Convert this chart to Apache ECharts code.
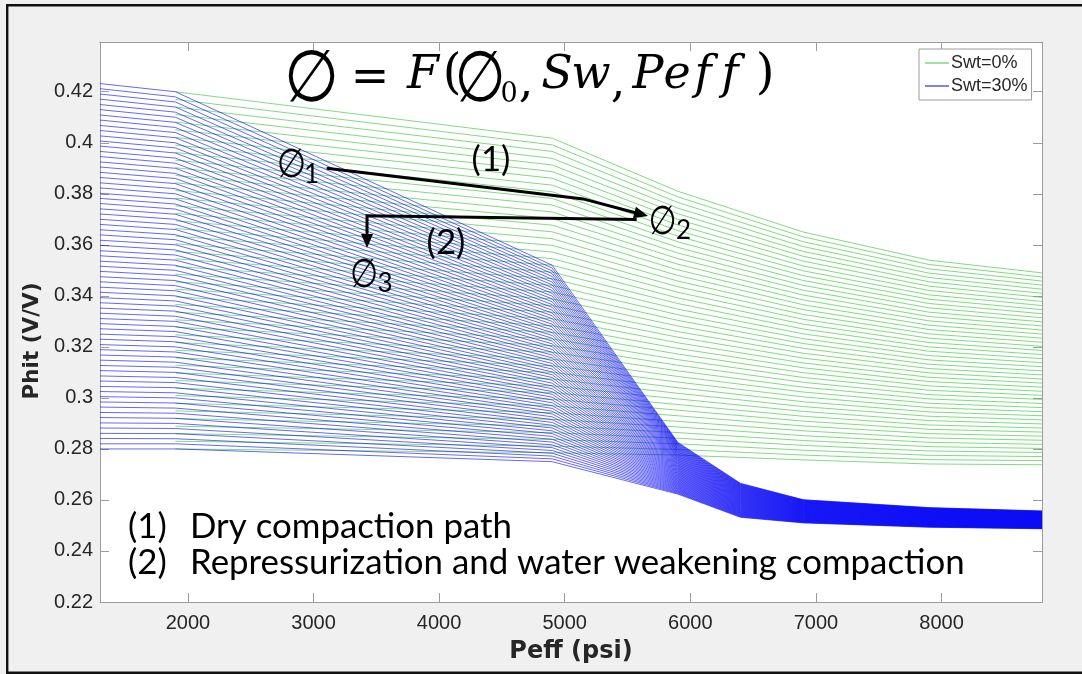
<!DOCTYPE html>
<html><head><meta charset="utf-8"><title>Phit vs Peff</title>
<script src="https://cdn.jsdelivr.net/npm/echarts@6.0.0/dist/echarts.min.js"></script>
<style>html,body{margin:0;padding:0;background:#f0f0f0;overflow:hidden}#chart{width:1082px;height:674px}</style>
</head><body><div id="chart"></div>
<script>
// ---- data ----
const xTickValues = [2000, 3000, 4000, 5000, 6000, 7000, 8000];
const yTickValues = [0.22, 0.24, 0.26, 0.28, 0.30, 0.32, 0.34, 0.36, 0.38, 0.40, 0.42];
const yTickLabels = ['0.22', '0.24', '0.26', '0.28', '0.3', '0.32', '0.34', '0.36', '0.38', '0.4', '0.42'];
const legendNames = ['Swt=0%', 'Swt=30%'];

// Swt=30% family: Phit of every curve (top to bottom) at each Peff breakpoint
const bluePeff = [1300, 1900, 4900, 5900, 6400, 6900, 7900, 8800];
const blueAt1300 = [.4232,.4212,.4191,.4171,.4150,.4130,.4109,.4089,.4068,.4048,
  .4027,.4007,.3987,.3966,.3946,.3925,.3905,.3884,.3864,.3843,
  .3823,.3802,.3782,.3762,.3741,.3721,.3700,.3680,.3659,.3639,
  .3618,.3598,.3577,.3557,.3536,.3516,.3496,.3475,.3455,.3434,
  .3414,.3393,.3373,.3352,.3332,.3311,.3291,.3271,.3250,.3230,
  .3209,.3189,.3168,.3148,.3127,.3107,.3086,.3066,.3045,.3025,
  .3005,.2984,.2964,.2943,.2923,.2902,.2882,.2861,.2841,.2820,.2800];
const blueAt1900 = [.420,.418,.416,.414,.412,.410,.408,.406,.404,.402,
  .400,.398,.396,.394,.392,.390,.388,.386,.384,.382,
  .380,.378,.376,.374,.372,.370,.368,.366,.364,.362,
  .360,.358,.356,.354,.352,.350,.348,.346,.344,.342,
  .340,.338,.336,.334,.332,.330,.328,.326,.324,.322,
  .320,.318,.316,.314,.312,.310,.308,.306,.304,.302,
  .300,.298,.296,.294,.292,.290,.288,.286,.284,.282,.280];
const blueAt4900 = [.3520,.3509,.3498,.3487,.3476,.3465,.3454,.3443,.3432,.3421,
  .3410,.3399,.3388,.3377,.3366,.3355,.3344,.3333,.3322,.3311,
  .3300,.3289,.3278,.3267,.3256,.3245,.3234,.3223,.3212,.3201,
  .3190,.3179,.3168,.3157,.3146,.3135,.3124,.3113,.3102,.3091,
  .3080,.3069,.3058,.3047,.3036,.3025,.3014,.3003,.2992,.2981,
  .2970,.2959,.2948,.2937,.2926,.2915,.2904,.2893,.2882,.2871,
  .2860,.2849,.2838,.2827,.2816,.2805,.2794,.2783,.2772,.2761,.2750];
const blueAt5900 = [.28260,.28231,.28202,.28173,.28144,.28115,.28086,.28057,.28028,.27999,
  .27970,.27941,.27912,.27883,.27854,.27825,.27796,.27767,.27738,.27709,
  .27680,.27651,.27622,.27593,.27564,.27535,.27506,.27477,.27448,.27419,
  .27390,.27361,.27332,.27303,.27274,.27245,.27216,.27187,.27158,.27129,
  .27100,.27071,.27042,.27013,.26984,.26955,.26926,.26897,.26868,.26839,
  .26810,.26781,.26752,.26723,.26694,.26665,.26636,.26607,.26578,.26549,
  .26520,.26491,.26462,.26433,.26404,.26375,.26346,.26317,.26288,.26259,.26230];
const blueAt6400 = [.26650,.26631,.26612,.26593,.26574,.26555,.26536,.26517,.26498,.26479,
  .26460,.26441,.26422,.26403,.26384,.26365,.26346,.26327,.26308,.26289,
  .26270,.26251,.26232,.26213,.26194,.26175,.26156,.26137,.26118,.26099,
  .26080,.26061,.26042,.26023,.26004,.25985,.25966,.25947,.25928,.25909,
  .25890,.25871,.25852,.25833,.25814,.25795,.25776,.25757,.25738,.25719,
  .25700,.25681,.25662,.25643,.25624,.25605,.25586,.25567,.25548,.25529,
  .25510,.25491,.25472,.25453,.25434,.25415,.25396,.25377,.25358,.25339,.25320];
const blueAt6900 = [.26010,.25997,.25984,.25971,.25958,.25945,.25932,.25919,.25906,.25893,
  .25880,.25867,.25854,.25841,.25828,.25815,.25802,.25789,.25776,.25763,
  .25750,.25737,.25724,.25711,.25698,.25685,.25672,.25659,.25646,.25633,
  .25620,.25607,.25594,.25581,.25568,.25555,.25542,.25529,.25516,.25503,
  .25490,.25477,.25464,.25451,.25438,.25425,.25412,.25399,.25386,.25373,
  .25360,.25347,.25334,.25321,.25308,.25295,.25282,.25269,.25256,.25243,
  .25230,.25217,.25204,.25191,.25178,.25165,.25152,.25139,.25126,.25113,.25100];
const blueAt7900 = [.25700,.25689,.25678,.25667,.25656,.25645,.25634,.25623,.25612,.25601,
  .25590,.25579,.25568,.25557,.25546,.25535,.25524,.25513,.25502,.25491,
  .25480,.25469,.25458,.25447,.25436,.25425,.25414,.25403,.25392,.25381,
  .25370,.25359,.25348,.25337,.25326,.25315,.25304,.25293,.25282,.25271,
  .25260,.25249,.25238,.25227,.25216,.25205,.25194,.25183,.25172,.25161,
  .25150,.25139,.25128,.25117,.25106,.25095,.25084,.25073,.25062,.25051,
  .25040,.25029,.25018,.25007,.24996,.24985,.24974,.24963,.24952,.24941,.24930];
const blueAt8800 = [.2557,.2556,.2555,.2554,.2553,.2552,.2551,.2550,.2549,.2548,
  .2547,.2546,.2545,.2544,.2543,.2542,.2541,.2540,.2539,.2538,
  .2537,.2536,.2535,.2534,.2533,.2532,.2531,.2530,.2529,.2528,
  .2527,.2526,.2525,.2524,.2523,.2522,.2521,.2520,.2519,.2518,
  .2517,.2516,.2515,.2514,.2513,.2512,.2511,.2510,.2509,.2508,
  .2507,.2506,.2505,.2504,.2503,.2502,.2501,.2500,.2499,.2498,
  .2497,.2496,.2495,.2494,.2493,.2492,.2491,.2490,.2489,.2488,.2487];

// Swt=0% family
const greenPeff = [1900, 4900, 5900, 6900, 7900, 8800];
const greenAt1900 = [.4200,.4170,.4140,.4111,.4081,.4051,.4021,.3991,.3962,.3932,
  .3902,.3872,.3843,.3813,.3783,.3753,.3723,.3694,.3664,.3634,
  .3604,.3574,.3545,.3515,.3485,.3455,.3426,.3396,.3366,.3336,
  .3306,.3277,.3247,.3217,.3187,.3157,.3128,.3098,.3068,.3038,
  .3009,.2979,.2949,.2919,.2889,.2860,.2830,.2800];
const greenAt4900 = [.4018,.3992,.3966,.3939,.3913,.3887,.3861,.3834,.3808,.3782,
  .3756,.3729,.3703,.3677,.3651,.3624,.3598,.3572,.3546,.3520,
  .3493,.3467,.3441,.3415,.3388,.3362,.3336,.3310,.3283,.3257,
  .3231,.3205,.3179,.3152,.3126,.3100,.3074,.3047,.3021,.2995,
  .2969,.2942,.2916,.2890,.2864,.2837,.2811,.2785];
const greenAt5900 = [.3810,.3788,.3766,.3744,.3722,.3700,.3678,.3656,.3634,.3612,
  .3590,.3568,.3546,.3524,.3502,.3480,.3458,.3436,.3414,.3392,
  .3370,.3348,.3326,.3304,.3282,.3260,.3238,.3216,.3194,.3172,
  .3150,.3128,.3106,.3084,.3062,.3040,.3018,.2996,.2974,.2952,
  .2930,.2908,.2886,.2864,.2842,.2820,.2798,.2776];
const greenAt6900 = [.3650,.3631,.3612,.3593,.3574,.3555,.3536,.3517,.3498,.3479,
  .3460,.3441,.3422,.3403,.3384,.3365,.3346,.3327,.3308,.3289,
  .3270,.3251,.3232,.3213,.3194,.3175,.3156,.3137,.3118,.3099,
  .3080,.3061,.3042,.3023,.3004,.2985,.2966,.2947,.2928,.2909,
  .2890,.2871,.2852,.2833,.2814,.2795,.2776,.2757];
const greenAt7900 = [.3540,.3523,.3506,.3489,.3472,.3455,.3438,.3421,.3404,.3387,
  .3370,.3353,.3336,.3319,.3302,.3285,.3268,.3251,.3234,.3217,
  .3200,.3183,.3166,.3149,.3132,.3115,.3098,.3081,.3064,.3047,
  .3030,.3013,.2996,.2979,.2962,.2945,.2928,.2911,.2894,.2877,
  .2860,.2843,.2826,.2809,.2792,.2775,.2758,.2741];
const greenAt8800 = [.3490,.3474,.3458,.3442,.3426,.3410,.3394,.3378,.3362,.3346,
  .3330,.3314,.3298,.3282,.3266,.3250,.3234,.3218,.3202,.3186,
  .3170,.3154,.3138,.3122,.3106,.3090,.3074,.3058,.3042,.3026,
  .3010,.2994,.2978,.2962,.2946,.2930,.2914,.2898,.2882,.2866,
  .2850,.2834,.2818,.2802,.2786,.2770,.2754,.2738];

// ---- chart ----
const blueCols = [blueAt1300, blueAt1900, blueAt4900, blueAt5900, blueAt6400, blueAt6900, blueAt7900, blueAt8800];
const greenCols = [greenAt1900, greenAt4900, greenAt5900, greenAt6900, greenAt7900, greenAt8800];

const GREEN = '#3cc63c', BLUE = '#0000f5', AXIS = '#9c9c9c', TXT = '#262626';

function family(peff, cols, name, color, width, z) {
  const out = [];
  for (let i = 0; i < cols[0].length; i++) {
    out.push({
      type: 'line', name: name, z: z, silent: true, animation: false,
      symbol: 'none', showSymbol: false, clip: true,
      data: peff.map((p, k) => [p, cols[k][i]]),
      lineStyle: { color: color, width: width }, itemStyle: { color: color }
    });
  }
  return out;
}

const chart = echarts.init(document.getElementById('chart'), null, { renderer: 'canvas' });

const tickLabelStyle = { fontFamily: 'Liberation Sans', fontSize: 20, color: TXT };
function xAx(pos) {
  return {
    type: 'value', min: 1300, max: 8800, position: pos,
    axisLine: { show: true, onZero: false, lineStyle: { color: AXIS, width: 1 } },
    axisTick: { show: true, inside: true, length: 9, customValues: xTickValues, lineStyle: { color: AXIS } },
    axisLabel: Object.assign({ show: pos === 'bottom', customValues: xTickValues, margin: 11, formatter: v => String(v) }, tickLabelStyle),
    splitLine: { show: false }
  };
}
function yAx(pos) {
  return {
    type: 'value', min: 0.22, max: 0.4395, position: pos,
    axisLine: { show: true, onZero: false, lineStyle: { color: AXIS, width: 1 } },
    axisTick: { show: true, inside: true, length: 9, customValues: yTickValues, lineStyle: { color: AXIS } },
    axisLabel: Object.assign({
      show: pos === 'left', customValues: yTickValues, margin: 7,
      formatter: v => { const k = yTickValues.findIndex(t => Math.abs(t - v) < 1e-9); return k >= 0 ? yTickLabels[k] : ''; }
    }, tickLabelStyle),
    splitLine: { show: false }
  };
}
const xb = xAx('bottom');
xb.name = 'Peff (psi)'; xb.nameLocation = 'middle'; xb.nameGap = 38;
xb.nameTextStyle = { fontFamily: 'DejaVu Sans', fontWeight: 'bold', fontSize: 24, color: TXT };
const yl = yAx('left');
yl.name = 'Phit (V/V)'; yl.nameLocation = 'middle'; yl.nameGap = 44; yl.nameRotate = 90;
yl.nameTextStyle = { fontFamily: 'DejaVu Sans', fontWeight: 'bold', fontSize: 21.5, color: TXT, padding: [0, 38, 0, 0] };

const series = [].concat(
  family(greenPeff, greenCols, legendNames[0], GREEN, 0.65, 2),
  family(bluePeff, blueCols, legendNames[1], BLUE, 0.6, 3)
);

chart.setOption({
  backgroundColor: '#f0f0f0',
  animation: false,
  grid: { left: 100, right: 40, top: 42, bottom: 72, show: true, backgroundColor: '#ffffff', borderWidth: 0 },
  xAxis: [xb, xAx('top')],
  yAxis: [yl, yAx('right')],
  legend: {
    data: legendNames.map(n => ({ name: n, icon: 'rect' })), orient: 'vertical', left: 919, top: 49,
    itemWidth: 24, itemHeight: 1, itemGap: 5, selectedMode: false,
    backgroundColor: '#ffffff', borderColor: AXIS, borderWidth: 1, borderRadius: 0,
    padding: [5, 4, 5, 6],
    textStyle: { fontFamily: 'Liberation Sans', fontSize: 18, color: TXT, lineHeight: 17.5, padding: [0, 0, 0, -3] }
  },
  series: series
});

// ---- annotations ----
const P = p => chart.convertToPixel({ xAxisIndex: 0, yAxisIndex: 0 }, p);
function arrow(pathData) {
  const pts = pathData.map(P);
  const a = pts[pts.length - 2], b = pts[pts.length - 1];
  const ang = Math.atan2(b[1] - a[1], b[0] - a[0]);
  const L = 14, W = 6;
  const base = [b[0] - L * Math.cos(ang), b[1] - L * Math.sin(ang)];
  const head = [b,
    [base[0] + W * Math.sin(ang), base[1] - W * Math.cos(ang)],
    [base[0] - W * Math.sin(ang), base[1] + W * Math.cos(ang)]];
  const line = pts.slice(0, -1).concat([[base[0] + 2 * Math.cos(ang), base[1] + 2 * Math.sin(ang)]]);
  return [
    { type: 'polyline', z: 100, silent: true, shape: { points: line }, style: { stroke: '#000', lineWidth: 3, fill: null, lineJoin: 'miter' } },
    { type: 'polygon', z: 100, silent: true, shape: { points: head }, style: { fill: '#000' } }
  ];
}
function T(text, cx, cy, font, align) {
  return {
    type: 'text', x: cx, y: cy, z: 100, silent: true,
    style: Object.assign({ text: text, fill: '#000', align: align || 'center', verticalAlign: 'middle' }, font)
  };
}
// empty-set glyph fitted to an ink box (w x h) centred on (cx, cy)
function phiBox(cx, cy, w, h) {
  const F = w / 0.68, sy = h / (0.75 * F);
  return {
    type: 'text', x: cx, y: cy + 0.095 * F * sy, z: 100, silent: true, scaleY: sy,
    style: { text: '\u2205', fontFamily: 'DejaVu Sans', fontSize: F, fill: '#000', align: 'center', verticalAlign: 'middle' }
  };
}
const serifI = s => ({ fontFamily: 'DejaVu Serif', fontStyle: 'italic', fontSize: s });
const serifN = s => ({ fontFamily: 'DejaVu Serif', fontSize: s });
const sans = s => ({ fontFamily: 'Lato', fontSize: s });

const mctx = document.createElement('canvas').getContext('2d');
mctx.font = '100px Lato';
const longLine = 'Repressurization and water weakening compaction';
const bodySize = 100 * 775 / mctx.measureText(longLine).width;

const g = [];
// equation  ∅ = F(∅0, Sw, Peff)
g.push(phiBox(311.5, 75, 43, 54));
g.push(T('=', 370, 79, serifN(46)));
g.push(T('F', 423, 76, serifI(46)));
g.push(T('(', 452, 76, serifN(48)));
g.push(phiBox(480, 76, 40, 53));
g.push(T('0', 509, 95, serifN(27)));
g.push(T(',', 526, 84, serifN(46)));
g.push(T('S', 557, 76, serifI(46)));
g.push(T('w', 591, 76, serifI(46)));
g.push(T(',', 618, 84, serifN(46)));
g.push(T('P', 648, 76, serifI(46)));
g.push(T('e', 677, 76, serifI(46)));
g.push(T('f', 703, 76, serifI(46)));
g.push(T('f', 730, 76, serifI(46)));
g.push(T(')', 765, 76, serifN(48)));
// point labels
g.push(phiBox(291.5, 163, 23, 30)); g.push(T('1', 311.5, 175, sans(26)));
g.push(phiBox(662.5, 220, 22, 30)); g.push(T('2', 683.5, 231, sans(26)));
g.push(phiBox(364, 273, 22, 30)); g.push(T('3', 385, 284, sans(26)));
g.push(T('(1)', 491, 159.5, sans(bodySize)));
g.push(T('(2)', 446, 242.5, sans(bodySize)));
// bottom text
g.push(T('(1)', 128, 527, sans(bodySize), 'left'));
g.push(T('Dry compaction path', 190, 527, sans(bodySize), 'left'));
g.push(T('(2)', 128, 563, sans(bodySize), 'left'));
g.push(T(longLine, 190, 563, sans(bodySize), 'left'));
// arrows (data coordinates)
arrow([[3105, 0.3900], [5146, 0.3780], [5663, 0.3713]]).forEach(e => g.push(e));
arrow([[5573, 0.3699], [3426, 0.3714], [3426, 0.3588]]).forEach(e => g.push(e));
// outer frame
g.push({ type: 'rect', z: 200, silent: true, shape: { x: 7.2, y: 5.3, width: 1100, height: 667.5 }, style: { fill: null, stroke: '#111', lineWidth: 2.4 } });

chart.setOption({ graphic: { elements: g } });
</script></body></html>
